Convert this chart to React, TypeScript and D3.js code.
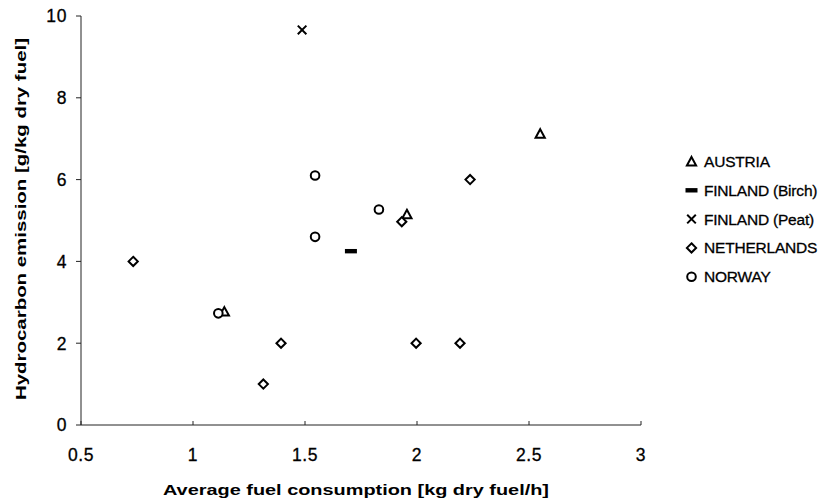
import React from "react";
import * as d3 from "d3";

const xTicks = [0.5, 1, 1.5, 2, 2.5, 3];
const yTicks = [0, 2, 4, 6, 8, 10];

const austriaX = [1.14, 1.955, 2.55];
const austriaY = [2.77, 5.15, 7.12];
const birchX = [1.705];
const birchY = [4.25];
const peatX = [1.487];
const peatY = [9.66];
const netherlandsX = [0.733, 1.314, 1.393, 1.932, 1.996, 2.192, 2.237];
const netherlandsY = [4.0, 1.0, 2.0, 4.97, 2.0, 2.0, 6.0];
const norwayX = [1.113, 1.545, 1.545, 1.83];
const norwayY = [2.73, 4.6, 6.1, 5.27];

const legendLabels = ["AUSTRIA", "FINLAND (Birch)", "FINLAND (Peat)", "NETHERLANDS", "NORWAY"];
const legendKinds = ["triangle", "bar", "cross", "diamond", "circle"];

const W = 824;
const H = 504;
const FONT = "'Liberation Sans', Arial, Helvetica, sans-serif";

function Marker({ kind, cx, cy }: { kind: string; cx: number; cy: number }) {
  const sw = 2;
  if (kind === "circle") {
    return <circle cx={cx} cy={cy} r={4.3} fill="white" stroke="#000" strokeWidth={sw} />;
  }
  if (kind === "diamond") {
    const s = 4.6;
    return (
      <path
        d={`M${cx},${cy - s}L${cx + s},${cy}L${cx},${cy + s}L${cx - s},${cy}Z`}
        fill="white"
        stroke="#000"
        strokeWidth={sw}
      />
    );
  }
  if (kind === "triangle") {
    const s = 4.6;
    return (
      <path
        d={`M${cx},${cy - s}L${cx + s},${cy + s * 0.85}L${cx - s},${cy + s * 0.85}Z`}
        fill="white"
        stroke="#000"
        strokeWidth={sw}
      />
    );
  }
  if (kind === "cross") {
    const s = 4.3;
    return (
      <path
        d={`M${cx - s},${cy - s}L${cx + s},${cy + s}M${cx - s},${cy + s}L${cx + s},${cy - s}`}
        stroke="#000"
        strokeWidth={sw}
      />
    );
  }
  return <rect x={cx - 6} y={cy - 2.2} width={12} height={4.4} fill="#000" />;
}

export default function App() {
  const x = d3.scaleLinear().domain([0.5, 3]).range([81, 641]);
  const y = d3.scaleLinear().domain([0, 10]).range([425, 16]);

  const series = [
    { kind: "triangle", xs: austriaX, ys: austriaY },
    { kind: "bar", xs: birchX, ys: birchY },
    { kind: "cross", xs: peatX, ys: peatY },
    { kind: "diamond", xs: netherlandsX, ys: netherlandsY },
    { kind: "circle", xs: norwayX, ys: norwayY },
  ];

  return (
    <svg
      width={W}
      height={H}
      style={{ position: "fixed", left: 0, top: 0, background: "white" }}
      fontFamily={FONT}
    >
      <rect x={0} y={0} width={W} height={H} fill="white" />
      <line x1={x(0.5)} x2={x(0.5)} y1={y(10)} y2={y(0)} stroke="#222" strokeWidth={1} />
      <line x1={x(0.5)} x2={x(3)} y1={y(0)} y2={y(0)} stroke="#222" strokeWidth={1} />
      {yTicks.map((t) => (
        <g key={"yt" + t}>
          <line x1={x(0.5) - 5} x2={x(0.5)} y1={y(t)} y2={y(t)} stroke="#222" strokeWidth={1} />
          <text
            x={67}
            y={y(t)}
            dy="0.36em"
            textAnchor="end"
            fontSize={17.5}
            letterSpacing={0.6}
            stroke="#000"
            strokeWidth={0.3}
            fill="#000"
          >
            {String(t)}
          </text>
        </g>
      ))}
      {xTicks.map((t) => (
        <g key={"xt" + t}>
          <line x1={x(t)} x2={x(t)} y1={y(0)} y2={y(0) - 4} stroke="#222" strokeWidth={1} />
          <text
            x={x(t)}
            y={461}
            textAnchor="middle"
            fontSize={17.5}
            letterSpacing={0.6}
            stroke="#000"
            strokeWidth={0.3}
            fill="#000"
          >
            {String(t)}
          </text>
        </g>
      ))}
      <text
        x={356}
        y={495}
        textAnchor="middle"
        fontSize={15}
        fontWeight="bold"
        textLength={386}
        lengthAdjust="spacingAndGlyphs"
        fill="#000"
      >
        Average fuel consumption [kg dry fuel/h]
      </text>
      <text
        transform={`translate(26,219) rotate(-90)`}
        textAnchor="middle"
        fontSize={15}
        fontWeight="bold"
        textLength={362}
        lengthAdjust="spacingAndGlyphs"
        fill="#000"
      >
        Hydrocarbon emission [g/kg dry fuel]
      </text>
      {series.map((s) =>
        s.xs.map((v, i) => (
          <Marker key={s.kind + i} kind={s.kind} cx={x(v)} cy={y(s.ys[i])} />
        ))
      )}
      {legendLabels.map((lab, i) => {
        const cy = 161.5 + i * 28.8;
        return (
          <g key={lab}>
            <Marker kind={legendKinds[i]} cx={691.5} cy={cy} />
            <text
              x={704}
              y={cy}
              dy="0.36em"
              fontSize={15.5}
              letterSpacing={-0.2}
              stroke="#000"
              strokeWidth={0.3}
              fill="#000"
            >
              {lab}
            </text>
          </g>
        );
      })}
    </svg>
  );
}
